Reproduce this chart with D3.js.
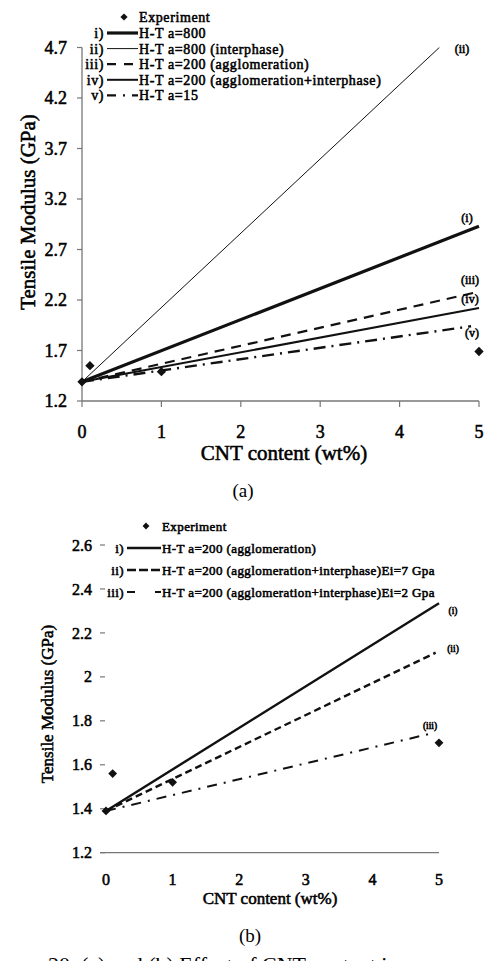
<!DOCTYPE html>
<html>
<head>
<meta charset="utf-8">
<script src="https://cdn.jsdelivr.net/npm/d3@7"></script>
<style>
body { margin: 0; background: #fff; }
svg { display: block; font-family: "Liberation Serif", "Times New Roman", serif; }
.b { stroke: #000; stroke-width: 0.55px; paint-order: stroke; }
</style>
</head>
<body>
<div id="chart"></div>
<script>
// ---- data ----
var xTicks = [0, 1, 2, 3, 4, 5];
var yTicksA = [1.2, 1.7, 2.2, 2.7, 3.2, 3.7, 4.2, 4.7];
var yTicksB = [1.2, 1.4, 1.6, 1.8, 2, 2.2, 2.4, 2.6];

var expX = [0, 0.1, 1, 5];
var expA = [1.39, 1.55, 1.49, 1.69];
var expB = [1.39, 1.56, 1.52, 1.70];

// model lines: start and end point (x, y)
var namesA = ["H-T a=800", "H-T a=800 (interphase)", "H-T a=200 (agglomeration)", "H-T a=200 (agglomeration+interphase)", "H-T a=15"];
var romanA = ["i)", "ii)", "iii)", "iv)", "v)"];
var tagsA = ["(i)", "(ii)", "(iii)", "(iv)", "(v)"];
var lineXA = [[0, 5], [0, 4.5], [0, 4.93], [0, 5], [0, 4.9]];
var lineYA = [[1.39, 2.93], [1.39, 4.7], [1.39, 2.27], [1.39, 2.12], [1.39, 1.94]];

var namesB = ["H-T a=200 (agglomeration)", "H-T a=200 (agglomeration+interphase)Ei=7 Gpa", "H-T a=200 (agglomeration+interphase)Ei=2 Gpa"];
var romanB = ["i)", "ii)", "iii)"];
var tagsB = ["(i)", "(ii)", "(iii)"];
var lineXB = [[0, 5], [0, 4.95], [0, 4.85]];
var lineYB = [[1.39, 2.335], [1.39, 2.11], [1.39, 1.74]];

var stylesA = [
  { w: 3.2, dash: null },
  { w: 1, dash: null },
  { w: 2.2, dash: "10,7" },
  { w: 2, dash: null },
  { w: 2.4, dash: "12,6,2,6" }
];
var stylesB = [
  { w: 2.4, dash: null },
  { w: 2.4, dash: "7,4" },
  { w: 2, dash: "10,7,2,7" }
];

var svg = d3.select("#chart").append("svg").attr("width", 486).attr("height", 961);

function drawPanel(o) {
  var x = d3.scaleLinear().domain([0, 5]).range(o.xr);
  var y = d3.scaleLinear().domain(o.yd).range(o.yr);
  var g = svg.append("g");

  // x axis
  g.append("line").attr("x1", o.axisX0).attr("x2", x(5)).attr("y1", y(o.yd[0])).attr("y2", y(o.yd[0]))
    .attr("stroke", "#777").attr("stroke-width", 1.3);
  g.selectAll(".xt").data(xTicks).enter().append("line")
    .attr("x1", d => x(d)).attr("x2", d => x(d))
    .attr("y1", y(o.yd[0])).attr("y2", y(o.yd[0]) + o.xTickLen)
    .attr("stroke", "#777").attr("stroke-width", 1.2);
  g.selectAll(".xl").data(xTicks).enter().append("text").attr("class", "b")
    .attr("x", d => x(d)).attr("y", o.xLabelY)
    .attr("text-anchor", "middle").attr("font-size", o.tickFs)
    .text(d => d);

  // y axis
  if (o.yLine) {
    g.append("line").attr("x1", x(0)).attr("x2", x(0)).attr("y1", y(o.yd[0])).attr("y2", y(o.yd[1]))
      .attr("stroke", "#777").attr("stroke-width", 1.3);
  }
  g.selectAll(".yt").data(o.yTicks).enter().append("line")
    .attr("x1", o.yTickX - 5).attr("x2", o.yTickX)
    .attr("y1", d => y(d)).attr("y2", d => y(d))
    .attr("stroke", "#777").attr("stroke-width", 1.2);
  g.selectAll(".yl").data(o.yTicks).enter().append("text").attr("class", "b")
    .attr("x", o.yLabelX).attr("y", d => y(d)).attr("dy", "0.35em")
    .attr("text-anchor", "end").attr("font-size", o.tickFs)
    .text(d => o.fmt(d));

  // titles
  g.append("text").attr("class", "b")
    .attr("transform", "translate(" + o.yTitleX + "," + o.yTitleY + ") rotate(-90)")
    .attr("text-anchor", "middle").attr("font-size", o.titleFs)
    .text("Tensile Modulus (GPa)");
  g.append("text").attr("class", "b").attr("x", o.xTitleX).attr("y", o.xTitleY)
    .attr("text-anchor", "middle").attr("font-size", o.titleFs)
    .text("CNT content (wt%)");

  // model lines
  o.lx.forEach(function (xs, i) {
    g.append("line")
      .attr("x1", x(xs[0])).attr("y1", y(o.ly[i][0]))
      .attr("x2", x(xs[1])).attr("y2", y(o.ly[i][1]))
      .attr("stroke", "#111").attr("stroke-width", o.styles[i].w)
      .attr("stroke-dasharray", o.styles[i].dash);
    g.append("text").attr("class", "b").attr("x", o.tagPos[i][0]).attr("y", o.tagPos[i][1])
      .attr("text-anchor", "middle").attr("font-size", o.tagFs)
      .text(o.tags[i]);
  });

  // experiment diamonds
  g.selectAll(".exp").data(expX).enter().append("path")
    .attr("d", d3.symbol().type(d3.symbolDiamond2).size(o.diam))
    .attr("transform", (d, i) => "translate(" + x(d) + "," + y(o.ey[i]) + ")")
    .attr("fill", "#111");

  // legend
  var lg = g.append("g").attr("letter-spacing", o.leg.ls);
  lg.append("path").attr("d", d3.symbol().type(d3.symbolDiamond2).size(o.diam * 0.6))
    .attr("transform", "translate(" + o.leg.mark + "," + o.leg.y0 + ")").attr("fill", "#111");
  lg.append("text").attr("class", "b").attr("x", o.leg.tx).attr("y", o.leg.y0).attr("dy", "0.35em")
    .attr("font-size", o.leg.fs).text("Experiment");
  o.names.forEach(function (n, i) {
    var yy = o.leg.y1 + i * o.leg.step;
    lg.append("text").attr("class", "b").attr("x", o.leg.rx).attr("y", yy).attr("dy", "0.35em")
      .attr("text-anchor", "end").attr("font-size", o.leg.fs).text(o.roman[i]);
    lg.append("line").attr("x1", o.leg.rx + 3).attr("x2", o.leg.tx - 1).attr("y1", yy).attr("y2", yy)
      .attr("stroke", "#111").attr("stroke-width", o.styles[i].w)
      .attr("stroke-dasharray", o.leg.dash[i]);
    lg.append("text").attr("class", "b").attr("x", o.leg.tx).attr("y", yy).attr("dy", "0.35em")
      .attr("font-size", o.leg.fs).text(n);
  });
}

drawPanel({
  xr: [82, 479], yd: [1.2, 4.7], yr: [401, 47.5], axisX0: 82,
  yTicks: yTicksA, fmt: d3.format(".1f"), yLine: true,
  xTickLen: 6, xLabelY: 438, yTickX: 82, yLabelX: 67, tickFs: 18,
  yTitleX: 35, yTitleY: 212, xTitleX: 284, xTitleY: 460, titleFs: 21,
  lx: lineXA, ly: lineYA, styles: stylesA, tags: tagsA, tagFs: 12,
  tagPos: [[467, 222], [462, 53], [470, 284], [470, 303], [472, 337]],
  ey: expA, diam: 55, names: namesA, roman: romanA,
  leg: { mark: 124, tx: 139, rx: 104, y0: 17, y1: 33, step: 15.6, fs: 14, ls: 0.6,
         dash: [null, null, "9,8", null, "9,7,2,7"] }
});

drawPanel({
  xr: [106, 439], yd: [1.2, 2.6], yr: [852.7, 545], axisX0: 100,
  yTicks: yTicksB, fmt: d3.format(""), yLine: false,
  xTickLen: 0, xLabelY: 885, yTickX: 105, yLabelX: 92, tickFs: 16,
  yTitleX: 53, yTitleY: 704, xTitleX: 270, xTitleY: 904, titleFs: 17,
  lx: lineXB, ly: lineYB, styles: stylesB, tags: tagsB, tagFs: 9.5,
  tagPos: [[453, 614], [453, 652], [430, 729]],
  ey: expB, diam: 50, names: namesB, roman: romanB,
  leg: { mark: 146, tx: 162, rx: 124, y0: 526, y1: 548, step: 22, fs: 13, ls: 0.4,
         dash: [null, "9,3", "8,20"] }
});

// sub-figure captions
svg.append("text").attr("x", 243).attr("y", 497).attr("text-anchor", "middle").attr("font-size", 19).text("(a)");
svg.append("text").attr("x", 250).attr("y", 942).attr("text-anchor", "middle").attr("font-size", 19).text("(b)");
svg.append("text").attr("x", 48).attr("y", 972).attr("font-size", 22).text("20. (a) and (b) Effect of CNT content in");
</script>
</body>
</html>
